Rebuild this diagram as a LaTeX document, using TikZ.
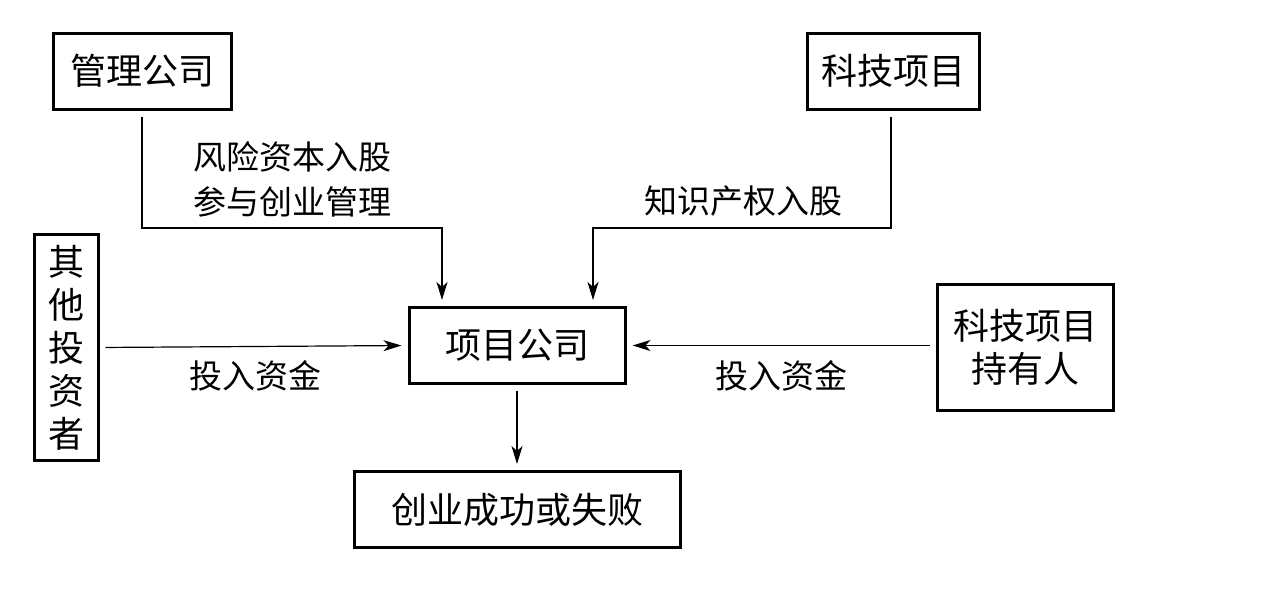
\documentclass[tikz,border=0pt]{standalone}
\usepackage{fontspec}
\newfontfamily\cjk{Noto Sans CJK SC}
\usetikzlibrary{arrows.meta, positioning}

\begin{document}
\begin{tikzpicture}[
    x=0.5pt, y=-0.5pt,
    box/.style={rectangle, draw, line width=1.5pt, inner sep=0pt, align=center, font=\cjk\fontsize{18}{21.5}\selectfont},
    arrow/.style={-{Stealth[length=9pt, width=5.5pt, inset=2.5pt]}, line width=0.6pt, shorten <=3pt, shorten >=3pt},
    label/.style={font=\cjk\fontsize{16.5}{22.5}\selectfont, align=center, inner sep=0pt}
]
\useasboundingbox (0,0) rectangle (1276,589);

% Sources
\node[box, minimum width=89pt, minimum height=38pt] (mgmt) at (142,71) {管理公司};
\node[box, minimum width=86pt, minimum height=38pt] (tech) at (893.5,71) {科技项目};
\node[box, minimum width=32pt, minimum height=113pt] (other) at (66,347.5) {其\\他\\投\\资\\者};
\node[box, minimum width=88pt, minimum height=63pt] (owner) at (1025,347) {科技项目\\持有人};

% Project company
\node[box, minimum width=108pt, minimum height=38pt] (proj) at (517,345.5) {项目公司};

% Result
\node[box, minimum width=163pt, minimum height=38pt] (result) at (517,509.5) {创业成功或失败};

% Corners
\coordinate (mgmtbend) at (442,228);
\coordinate (techbend) at (593,228);

% Arrows
\draw[arrow] (mgmt.south) |- (mgmtbend) -- (mgmtbend |- proj.north);
\draw[arrow] (tech.south -| 891,0) |- (techbend) -- (techbend |- proj.north);
\draw[arrow] (other.east) -- (proj.west);
\draw[arrow] (owner.west |- proj.west) -- (proj.east);
\draw[arrow] (proj.south) -- (result.north);

% Flow labels
\node[label] (risk) at (292,179) {风险资本入股\\参与创业管理};
\node[label] (ip) at (743,201) {知识产权入股};
\node[label] (fundl) at (255,376) {投入资金};
\node[label] (fundr) at (781,376) {投入资金};

\end{tikzpicture}
\end{document}
